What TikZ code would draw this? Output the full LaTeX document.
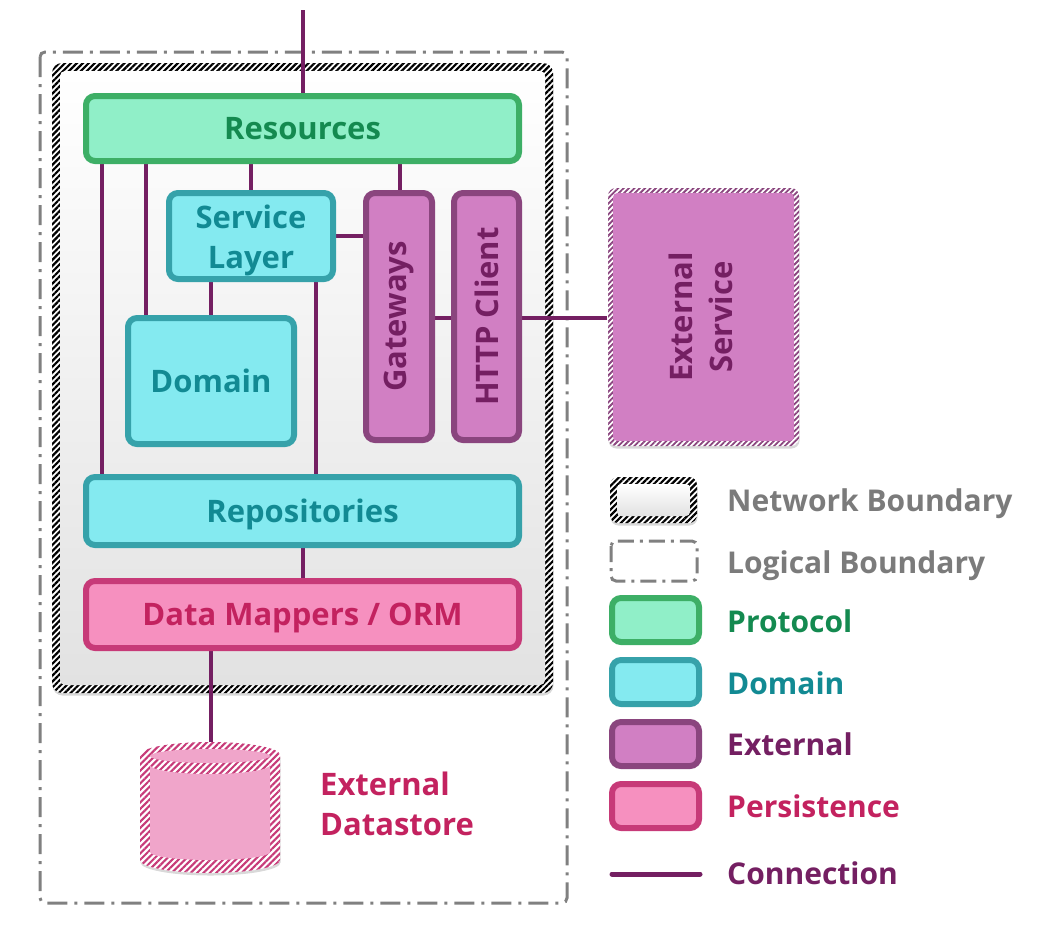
\documentclass[tikz,border=0pt]{standalone}
\usepackage{fontspec}
\setmainfont{Open Sans}
\usetikzlibrary{patterns.meta,shadows}
\definecolor{protF}{HTML}{90EFC8}
\definecolor{protD}{HTML}{3DAF66}
\definecolor{protT}{HTML}{148A50}
\definecolor{domF}{HTML}{84EAF0}
\definecolor{domD}{HTML}{36A2AA}
\definecolor{domT}{HTML}{128A93}
\definecolor{extF}{HTML}{D17FC3}
\definecolor{extD}{HTML}{8A457E}
\definecolor{extT}{HTML}{741F62}
\definecolor{perF}{HTML}{F690BF}
\definecolor{perD}{HTML}{C73A78}
\definecolor{perT}{HTML}{C3225F}
\definecolor{connC}{HTML}{741F62}
\definecolor{grayT}{HTML}{7B7B7B}
\definecolor{bndC}{HTML}{808080}
\definecolor{cylF}{HTML}{F0A5CA}
\definecolor{netB}{HTML}{E2E2E2}
\pgfdeclarelayer{bg}\pgfdeclarelayer{wires}\pgfsetlayers{bg,wires,main}
\tikzset{
 txt/.style={font=\bfseries\fontsize{30}{39}\selectfont, inner sep=0pt, align=center},
 bigtxt/.style={font=\bfseries\fontsize{31}{40}\selectfont},
 oneline/.style={text height=22pt, text depth=0pt},
 shad/.style={drop shadow={shadow xshift=0.5pt, shadow yshift=-2.5pt, opacity=0.3}},
 box/.style={txt, line width=6pt, rounded corners=9pt, shad},
 protobox/.style={box, draw=protD, fill=protF, text=protT},
 dombox/.style={box, draw=domD, fill=domF, text=domT},
 extbox/.style={box, draw=extD, fill=extF, text=extT},
 perbox/.style={box, draw=perD, fill=perF, text=perT},
 conn/.style={draw=connC, line width=4pt},
 logical/.style={draw=bndC, line width=3pt, rounded corners=5pt, dash pattern=on 20pt off 7pt on 3pt off 7pt},
 hatchK/.style={pattern={Lines[angle=45,distance=4.2pt,line width=2.2pt]}, pattern color=black},
 hatchP/.style={pattern={Lines[angle=45,distance=3.8pt,line width=1.8pt]}, pattern color=extD},
 hatchR/.style={pattern={Lines[angle=45,distance=4.5pt,line width=2.1pt]}, pattern color=perD},
 legtxt/.style={txt, anchor=base west},
}
\begin{document}
\begin{tikzpicture}[x=1pt,y=-1pt]
\useasboundingbox (0,0) rectangle (1044,930);
% ---------- boundaries ----------
\begin{pgfonlayer}{bg}
\draw[logical] (40,52) rectangle (567,903);
\path[fill=white, rounded corners=10pt, shad] (52,63) rectangle (553,693);
\path[hatchK, rounded corners=10pt] (52,63) rectangle (553,693);
\shade[top color=white, bottom color=netB, rounded corners=5pt] (60,71) rectangle (545,685);
\end{pgfonlayer}
% ---------- coordinates ----------
\coordinate (top) at (303,10);
\coordinate (c1) at (102,0);
\coordinate (c2) at (146,0);
\coordinate (gwx) at (400,0);
\coordinate (c5) at (316,0);
\coordinate (cy) at (0,318);
\coordinate (ds) at (211,742);
% ---------- main boxes ----------
\node[protobox, bigtxt, oneline, minimum width=433, minimum height=65] (res) at (302.5,128.5) {Resources};
\node[dombox, minimum width=164, minimum height=86] (sl) at (251,236) {};
\node[txt, bigtxt, text=domT] (sllbl) at (251,240) {Service\\Layer};
\node[dombox, bigtxt, oneline, minimum width=166, minimum height=126] (dom) at (211,381) {Domain};
\node[extbox, bigtxt, minimum width=66, minimum height=247] (gw) at (399,316.5) {\rotatebox{90}{Gateways}};
\node[extbox, bigtxt, minimum width=65, minimum height=247] (http) at (486.5,316.5) {\rotatebox{90}{HTTP Client}};
\node[dombox, bigtxt, oneline, minimum width=433, minimum height=68] (repo) at (302.5,511) {Repositories};
\node[perbox, bigtxt, oneline, minimum width=433, minimum height=67] (dm) at (302.5,614.5) {Data Mappers / ORM};
% ---------- external service ----------
\node[minimum width=191, minimum height=258, rounded corners=8pt, shad, preaction={fill=white}, hatchP, inner sep=0pt] (ext) at (703.5,317) {};
\fill[extF, rounded corners=4pt] ([shift={(6,6)}]ext.north west) rectangle ([shift={(-6,-6)}]ext.south east);
\node[txt, bigtxt, text=extT] (extlbl) at ([xshift=1pt]ext.center) {\rotatebox{90}{\begin{tabular}{@{}c@{}}External\\Service\end{tabular}}};
% ---------- datastore ----------
\path[fill=white, shad] (140,755) -- (140,860) arc[start angle=180,end angle=0,x radius=70,y radius=13] -- (280,755) arc[start angle=0,end angle=-180,x radius=70,y radius=13] -- cycle;
\path[hatchR] (140,755) -- (140,860) arc[start angle=180,end angle=0,x radius=70,y radius=13] -- (280,755) arc[start angle=0,end angle=-180,x radius=70,y radius=13] -- cycle;
\fill[cylF] (210,756) ellipse[x radius=60, y radius=7];
\fill[cylF] (150,765) -- (150,852) arc[start angle=180,end angle=0,x radius=60,y radius=8] -- (270,765) arc[start angle=0,end angle=180,x radius=60,y radius=9] -- cycle;
\node[txt, bigtxt, text=perT, align=left, anchor=west] (dslbl) at (320,804) {External\\Datastore};
% ---------- connectors ----------
\begin{pgfonlayer}{wires}
\draw[conn] (top) -- (res.north -| top);
\draw[conn] (res.south -| c1) -- (repo.north -| c1);
\draw[conn] (res.south -| c2) -- (dom.north -| c2);
\draw[conn] (res.south -| sl.north) -- (sl.north);
\draw[conn] (res.south -| gwx) -- (gw.north -| gwx);
\draw[conn] (sl.south -| dom.north) -- (dom.north);
\draw[conn] (sl.east) -- (sl.east -| gw.west);
\draw[conn] (sl.south -| c5) -- (repo.north -| c5);
\draw[conn] (gw.east |- cy) -- (http.west |- cy);
\draw[conn] (http.east |- cy) -- (ext.west |- cy);
\draw[conn] (repo.south -| top) -- (dm.north -| top);
\draw[conn] (dm.south -| ds) -- (ds);
\end{pgfonlayer}
% ---------- legend ----------
\path[fill=white, rounded corners=8pt, shad] (610,477) rectangle (697,523);
\path[hatchK, rounded corners=8pt] (610,477) rectangle (697,523);
\shade[top color=white, bottom color=netB, rounded corners=4pt] (617,484) rectangle (690,516);
\node[legtxt, text=grayT] (l1) at (727,511) {Network Boundary};
\draw[logical, dash pattern=on 16pt off 6pt on 3pt off 6pt] (611,541) rectangle (697,581);
\node[legtxt, text=grayT] (l2) at (727,573) {Logical Boundary};
\node[protobox, minimum width=87, minimum height=44] (lp) at (655.5,620) {};
\node[legtxt, text=protT] (l3) at (727,632) {Protocol};
\node[dombox, minimum width=87, minimum height=44] (ld) at (655.5,682) {};
\node[legtxt, text=domT] (l4) at (727,694) {Domain};
\node[extbox, minimum width=87, minimum height=44] (le) at (655.5,744) {};
\node[legtxt, text=extT] (l5) at (727,755) {External};
\node[perbox, minimum width=87, minimum height=44] (lper) at (655.5,806) {};
\node[legtxt, text=perT] (l6) at (727,817) {Persistence};
\coordinate (lc1) at (612,874);
\coordinate (lc2) at (700,874);
\draw[conn, line width=5pt, line cap=round] (lc1) -- (lc2);
\node[legtxt, text=connC] (l7) at (727,884) {Connection};
\end{tikzpicture}
\end{document}
